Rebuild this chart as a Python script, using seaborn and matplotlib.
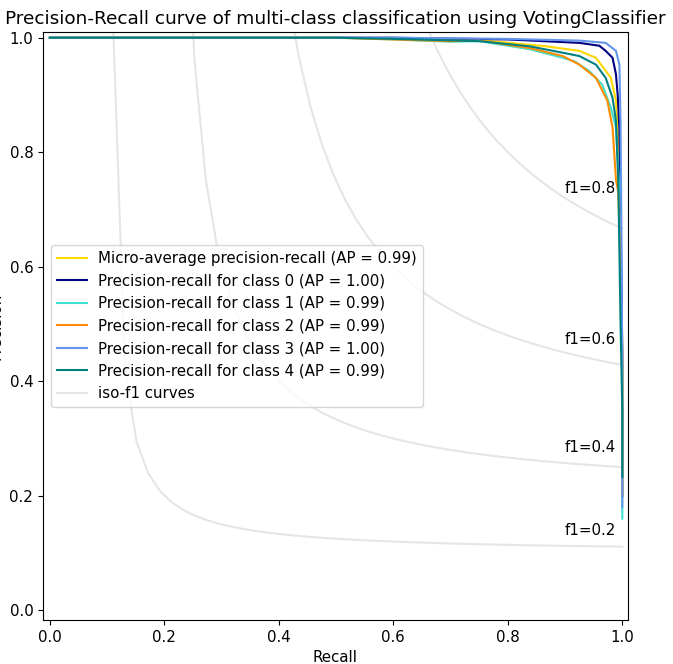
import numpy as np
import pandas as pd
import matplotlib
matplotlib.use("Agg")
import matplotlib.pyplot as plt
import seaborn as sns

plt.rcParams["font.size"] = 10.8

# iso-f1 levels
f_scores = [0.2, 0.4, 0.6, 0.8]

# precision-recall points (recall increasing)
micro_recall = [0.0, 0.5, 0.6, 0.7, 0.75, 0.867, 0.925, 0.954, 0.98, 0.989, 0.993, 0.996, 1.0, 1.0]
micro_precision = [1.0, 1.0, 0.999, 0.998, 0.996, 0.985, 0.977, 0.965, 0.93, 0.89, 0.82, 0.72, 0.45, 0.2]

class0_recall = [0.0, 0.6, 0.8, 0.925, 0.96, 0.971, 0.983, 0.989, 0.992, 0.995, 0.997, 1.0, 1.0]
class0_precision = [1.0, 1.0, 0.997, 0.991, 0.986, 0.977, 0.965, 0.936, 0.9, 0.84, 0.7, 0.45, 0.2]

class1_recall = [0.0, 0.5, 0.6, 0.7, 0.75, 0.838, 0.896, 0.916, 0.942, 0.965, 0.98, 0.989, 0.994, 0.997, 1.0, 1.0]
class1_precision = [1.0, 1.0, 0.997, 0.993, 0.994, 0.98, 0.965, 0.959, 0.942, 0.918, 0.878, 0.843, 0.75, 0.62, 0.4, 0.16]

class2_recall = [0.0, 0.5, 0.6, 0.7, 0.75, 0.838, 0.896, 0.925, 0.954, 0.974, 0.983, 0.989, 0.993, 0.997, 1.0, 1.0]
class2_precision = [1.0, 1.0, 0.997, 0.994, 0.995, 0.982, 0.968, 0.953, 0.93, 0.89, 0.843, 0.752, 0.73, 0.62, 0.4, 0.2]

class3_recall = [0.0, 0.6, 0.8, 0.925, 0.971, 0.989, 0.995, 0.997, 0.999, 1.0, 1.0]
class3_precision = [1.0, 1.0, 0.998, 0.995, 0.991, 0.977, 0.953, 0.85, 0.6, 0.35, 0.18]

class4_recall = [0.0, 0.5, 0.6, 0.75, 0.838, 0.895, 0.925, 0.954, 0.971, 0.983, 0.989, 0.993, 0.997, 1.0, 1.0]
class4_precision = [1.0, 1.0, 0.998, 0.994, 0.985, 0.974, 0.968, 0.953, 0.93, 0.895, 0.855, 0.75, 0.5, 0.35, 0.233]

class_labels = ["0", "1", "2", "3", "4"]
class_ap = [1.00, 0.99, 0.99, 1.00, 0.99]
micro_ap = 0.99

colors = ["navy", "turquoise", "darkorange", "cornflowerblue", "teal"]

fig = plt.figure(figsize=(6.73, 6.64), dpi=100)
ax = fig.add_axes([43 / 673, 44 / 664, 585 / 673, 588 / 664])

# iso-f1 curves, drawn from their definition f1 = 2PR/(P+R)
iso_line = None
for f_score in f_scores:
    x = np.linspace(0.01, 1)
    y = f_score * x / (2 * x - f_score)
    iso_line, = ax.plot(x[y >= 0], y[y >= 0], color="gray", alpha=0.2)
    ax.annotate("f1={0:0.1f}".format(f_score), xy=(0.9, y[45] + 0.02))

handles = []
labels = []

df = pd.DataFrame({"recall": micro_recall, "precision": micro_precision})
sns.lineplot(data=df, x="recall", y="precision", color="gold", sort=False,
             estimator=None, lw=1.5, ax=ax)
handles.append(ax.lines[-1])
labels.append(f"Micro-average precision-recall (AP = {micro_ap:0.2f})")

class_recalls = [class0_recall, class1_recall, class2_recall, class3_recall, class4_recall]
class_precisions = [class0_precision, class1_precision, class2_precision,
                    class3_precision, class4_precision]

for i, color in enumerate(colors):
    df = pd.DataFrame({"recall": class_recalls[i], "precision": class_precisions[i]})
    sns.lineplot(data=df, x="recall", y="precision", color=color, sort=False,
                 estimator=None, lw=1.5, ax=ax)
    handles.append(ax.lines[-1])
    labels.append(f"Precision-recall for class {class_labels[i]} (AP = {class_ap[i]:0.2f})")

handles.append(iso_line)
labels.append("iso-f1 curves")

ax.set_xlim(-0.012, 1.01)
ax.set_ylim(-0.017, 1.01)
ax.set_xlabel("Recall")
ax.set_ylabel("Precision")
ax.legend(handles=handles, labels=labels, loc="center left")
ax.set_title("Precision-Recall curve of multi-class classification using VotingClassifier",
             fontsize=13.3)

fig.savefig("out.png", dpi=100)
